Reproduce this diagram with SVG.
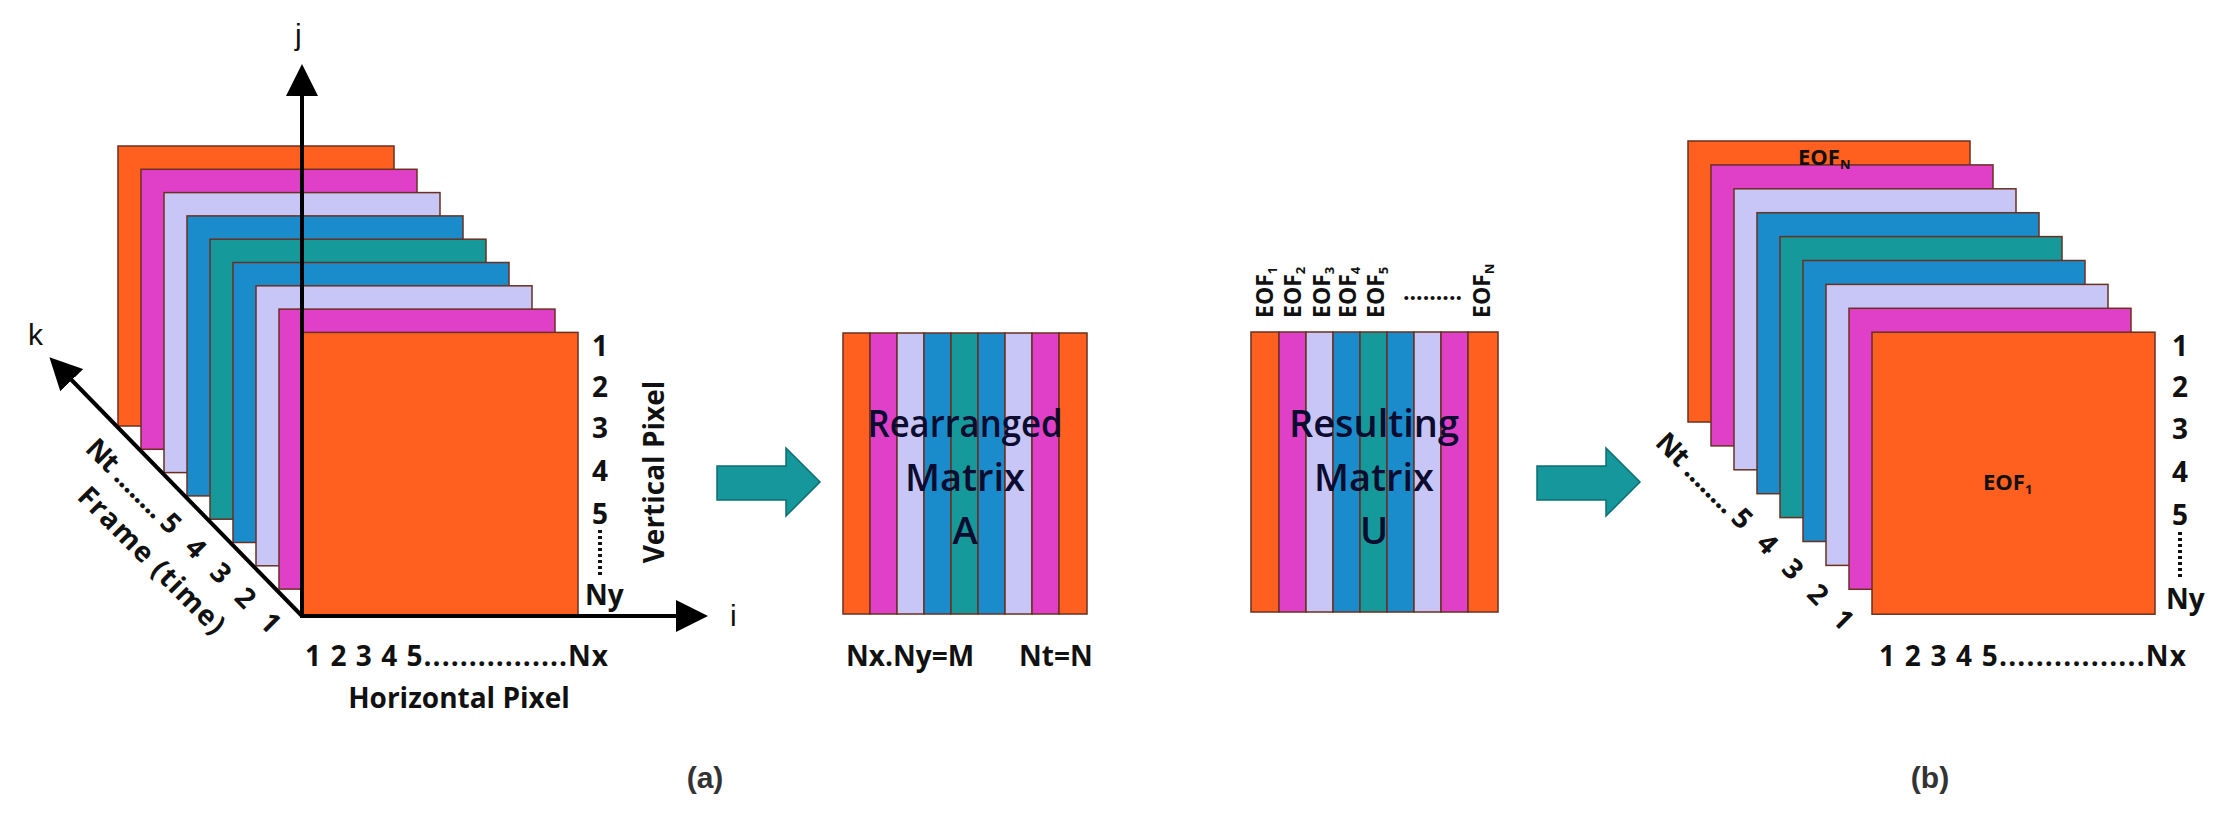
<svg xmlns="http://www.w3.org/2000/svg" width="2225" height="826" viewBox="0 0 2225 826">
<style>
.o{fill:#ff5f1f}.m{fill:#e040c8}.l{fill:#c8c6f6}.b{fill:#1a8ccc}.t{fill:#16999a}
rect.f{stroke:#6a3020;stroke-width:1.5}
.lb{font-family:"Open Sans","Liberation Sans",sans-serif;font-weight:bold;fill:#111;font-size:28px}
.mt{font-family:"Open Sans","Liberation Sans",sans-serif;fill:#0c0c30;font-size:38px;font-weight:600;text-anchor:middle}
.ax{stroke:#000;stroke-width:4;fill:none}
.eo{font-size:23px}
</style>
<defs>
<marker id="ah" markerWidth="8" markerHeight="8" refX="6" refY="4" orient="auto" markerUnits="strokeWidth"><path d="M0,0 L8,4 L0,8 z" fill="#000"/></marker>
</defs>
<g id="stack-a">
<rect class="f o" x="118" y="146" width="276" height="280"/>
<rect class="f m" x="141" y="169.3" width="276" height="280"/>
<rect class="f l" x="164" y="192.6" width="276" height="280"/>
<rect class="f b" x="187" y="215.9" width="276" height="280"/>
<rect class="f t" x="210" y="239.2" width="276" height="280"/>
<rect class="f b" x="233" y="262.5" width="276" height="280"/>
<rect class="f l" x="256" y="285.8" width="276" height="280"/>
<rect class="f m" x="279" y="309.1" width="276" height="280"/>
<rect class="f o" x="302" y="332.4" width="276" height="284"/>
</g>
<g id="connectors">
<line class="ax" x1="302" y1="616" x2="302" y2="72" marker-end="url(#ah)"/>
<line class="ax" x1="300" y1="616" x2="700" y2="616" marker-end="url(#ah)"/>
<line class="ax" x1="302" y1="616" x2="55" y2="363" marker-end="url(#ah)"/>
<path d="M717,466 H786 V448 L820,482 L786,516 V500 H717 Z" fill="#15979c" stroke="#0c6e72" stroke-width="1.5"/>
<path d="M1537,466 H1606 V448 L1640,482 L1606,516 V500 H1537 Z" fill="#15979c" stroke="#0c6e72" stroke-width="1.5"/>
</g>
<g id="axis-labels" font-family="Liberation Sans, sans-serif" font-size="30px" fill="#111">
<text x="295" y="45">j</text>
<text x="730" y="626">i</text>
<text x="28" y="345">k</text>
</g>
<g id="labels-a" class="lb">
<text x="592" y="356">1</text><text x="592" y="397">2</text><text x="592" y="438">3</text><text x="592" y="481">4</text><text x="592" y="524">5</text>
<line x1="600" y1="530" x2="600" y2="575" stroke="#111" stroke-width="4" stroke-dasharray="3,3"/>
<text x="585" y="605">Ny</text>
<text x="305" y="666" textLength="303">1 2 3 4 5................Nx</text>
<text x="459" y="708" text-anchor="middle">Horizontal Pixel</text>
<text transform="translate(664,472) rotate(-90)" text-anchor="middle">Vertical Pixel</text>
<text transform="translate(84,450) rotate(45)" textLength="262" xml:space="preserve">Nt ........ 5   4   3   2   1</text>
<text transform="translate(76,498) rotate(45)" textLength="195">Frame (time)</text>
</g>
<g id="matrix-a">
<rect class="f o" x="843" y="333" width="27" height="281"/>
<rect class="f m" x="870" y="333" width="27" height="281"/>
<rect class="f l" x="897" y="333" width="27" height="281"/>
<rect class="f b" x="924" y="333" width="27" height="281"/>
<rect class="f t" x="951" y="333" width="27" height="281"/>
<rect class="f b" x="978" y="333" width="27" height="281"/>
<rect class="f l" x="1005" y="333" width="27" height="281"/>
<rect class="f m" x="1032" y="333" width="27" height="281"/>
<rect class="f o" x="1059" y="333" width="28" height="281"/>
<text class="mt" x="965" y="437" textLength="195" lengthAdjust="spacingAndGlyphs">Rearranged</text>
<text class="mt" x="965" y="491">Matrix</text>
<text class="mt" x="965" y="544">A</text>
<text class="lb" x="846" y="666">Nx.Ny=M</text>
<text class="lb" x="1019" y="666">Nt=N</text>
</g>
<g id="matrix-u">
<rect class="f o" x="1251" y="332" width="28" height="280"/>
<rect class="f m" x="1279" y="332" width="27" height="280"/>
<rect class="f l" x="1306" y="332" width="27" height="280"/>
<rect class="f b" x="1333" y="332" width="27" height="280"/>
<rect class="f t" x="1360" y="332" width="27" height="280"/>
<rect class="f b" x="1387" y="332" width="27" height="280"/>
<rect class="f l" x="1414" y="332" width="27" height="280"/>
<rect class="f m" x="1441" y="332" width="27" height="280"/>
<rect class="f o" x="1468" y="332" width="30" height="280"/>
<text class="mt" x="1374" y="437" textLength="170" lengthAdjust="spacingAndGlyphs">Resulting</text>
<text class="mt" x="1374" y="491">Matrix</text>
<text class="mt" x="1374" y="544">U</text>
<g class="lb">
<text class="eo" transform="translate(1273,318) rotate(-90)">EOF<tspan font-size="13" dy="4">1</tspan></text>
<text class="eo" transform="translate(1301,318) rotate(-90)">EOF<tspan font-size="13" dy="4">2</tspan></text>
<text class="eo" transform="translate(1330,318) rotate(-90)">EOF<tspan font-size="13" dy="4">3</tspan></text>
<text class="eo" transform="translate(1356,318) rotate(-90)">EOF<tspan font-size="13" dy="4">4</tspan></text>
<text class="eo" transform="translate(1384,318) rotate(-90)">EOF<tspan font-size="13" dy="4">5</tspan></text>
<text class="eo" x="1403" y="300">.........</text>
<text class="eo" transform="translate(1490,318) rotate(-90)">EOF<tspan font-size="13" dy="4">N</tspan></text>
</g>
</g>
<g id="stack-b">
<rect class="f o" x="1688" y="141" width="282" height="281"/>
<rect class="f m" x="1711" y="164.9" width="282" height="281"/>
<rect class="f l" x="1734" y="188.8" width="282" height="281"/>
<rect class="f b" x="1757" y="212.7" width="282" height="281"/>
<rect class="f t" x="1780" y="236.6" width="282" height="281"/>
<rect class="f b" x="1803" y="260.5" width="282" height="281"/>
<rect class="f l" x="1826" y="284.4" width="282" height="281"/>
<rect class="f m" x="1849" y="308.3" width="282" height="281"/>
<rect class="f o" x="1872" y="332.2" width="283" height="282"/>
<text class="lb" style="font-size:22px" x="1798" y="165">EOF<tspan font-size="13" dy="4">N</tspan></text>
<text class="lb" style="font-size:22px" x="1983" y="490">EOF<tspan font-size="13" dy="4">1</tspan></text>
</g>
<g id="labels-b" class="lb">
<text x="2172" y="356">1</text><text x="2172" y="397">2</text><text x="2172" y="439">3</text><text x="2172" y="482">4</text><text x="2172" y="525">5</text>
<line x1="2180" y1="532" x2="2180" y2="577" stroke="#111" stroke-width="4" stroke-dasharray="3,3"/>
<text x="2166" y="609">Ny</text>
<text x="1879" y="666" textLength="307">1 2 3 4 5................Nx</text>
<text transform="translate(1654,444) rotate(45)" textLength="266" xml:space="preserve">Nt ........ 5   4   3   2   1</text>
</g>
<g id="captions" font-family="Liberation Sans, sans-serif" font-weight="bold" font-size="30px" fill="#333" text-anchor="middle">
<text x="705" y="788">(a)</text>
<text x="1930" y="788">(b)</text>
</g>
</svg>
